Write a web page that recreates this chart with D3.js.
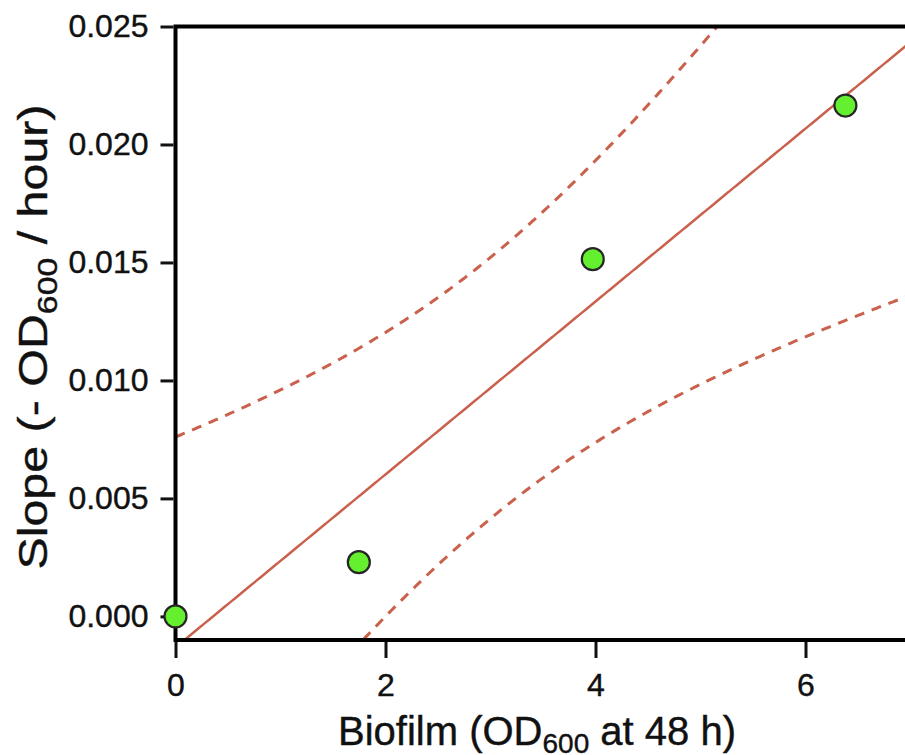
<!doctype html>
<meta charset="utf-8">
<title>Slope vs biofilm</title>
<script src="https://cdn.jsdelivr.net/npm/d3@7"></script>
<style>
body, html { margin: 0; background: #fff; }
svg text { font-family: "Liberation Sans", Arial, sans-serif; fill: #111; }
</style>
<div id="chart"></div>
<script>
// values
var biofilm = [0, 1.746, 3.974, 6.38];
var slopeVals = [0.0, 0.0023, 0.01514, 0.02165];
var xTicks = [0, 2, 4, 6];
var yTicks = [0.000, 0.005, 0.010, 0.015, 0.020, 0.025];
var tCrit = 4.303; // t(0.975, df=2)

var width = 905, height = 755;
var mLeft = 175.5, mTop = 26.5, mBottom = 640;

var x = d3.scaleLinear().domain([0, 7.5]).range([mLeft, mLeft + 7.5 * 105]);
var y = d3.scaleLinear().domain([-0.001, 0.025]).range([mBottom, mTop]);

var svg = d3.select('#chart').append('svg')
  .attr('width', width).attr('height', height);

// linear fit + 95% confidence band of the mean
var n = biofilm.length;
var mx = d3.mean(biofilm), my = d3.mean(slopeVals);
var sxx = d3.sum(biofilm, function(d) { return (d - mx) * (d - mx); });
var sxy = d3.sum(biofilm, function(d, i) { return (d - mx) * (slopeVals[i] - my); });
var b = sxy / sxx, a = my - b * mx;
var sse = d3.sum(biofilm, function(d, i) { var r = slopeVals[i] - (a + b * d); return r * r; });
var s = Math.sqrt(sse / (n - 2));
function half(v) { return tCrit * s * Math.sqrt(1 / n + (v - mx) * (v - mx) / sxx); }

var grid = d3.range(0, 7.5, 0.02);

svg.append('clipPath').attr('id', 'plot').append('rect')
  .attr('x', mLeft).attr('y', mTop).attr('width', width - mLeft + 10).attr('height', mBottom - mTop);

var plot = svg.append('g').attr('clip-path', 'url(#plot)');
var red = '#c9614c';

var line = d3.line().x(function(d) { return x(d[0]); }).y(function(d) { return y(d[1]); });

plot.append('path')
  .attr('d', line(grid.map(function(v) { return [v, a + b * v]; })))
  .attr('fill', 'none').attr('stroke', red).attr('stroke-width', 2.5);

[1, -1].forEach(function(sign) {
  plot.append('path')
    .attr('d', line(grid.map(function(v) { return [v, a + b * v + sign * half(v)]; })))
    .attr('fill', 'none').attr('stroke', red).attr('stroke-width', 3)
    .attr('stroke-dasharray', '10,8');
});

// frame
svg.append('path')
  .attr('d', 'M' + (width + 10) + ',' + mTop + 'H' + mLeft + 'V' + mBottom + 'H' + (width + 10))
  .attr('fill', 'none').attr('stroke', '#000').attr('stroke-width', 4);

// axes
var yAxis = svg.append('g')
  .attr('transform', 'translate(' + (mLeft - 2) + ',0)')
  .call(d3.axisLeft(y).tickValues(yTicks).tickFormat(d3.format('.3f')).tickSize(13).tickPadding(12));
var xAxis = svg.append('g')
  .attr('transform', 'translate(0,' + (mBottom + 2) + ')')
  .call(d3.axisBottom(x).tickValues(xTicks).tickFormat(d3.format('d')).tickSize(16).tickPadding(15));
[xAxis, yAxis].forEach(function(g) {
  g.select('.domain').remove();
  g.selectAll('.tick line').attr('stroke', '#111').attr('stroke-width', 3);
  g.selectAll('.tick text').style('font-size', '32px').attr('fill', '#111')
    .style('stroke', '#111').style('stroke-width', 0.4);
});

// points
svg.append('g').selectAll('circle')
  .data(biofilm)
  .join('circle')
  .attr('cx', function(d) { return x(d); })
  .attr('cy', function(d, i) { return y(slopeVals[i]); })
  .attr('r', 11)
  .attr('fill', '#64f02e')
  .attr('stroke', '#262626')
  .attr('stroke-width', 2.2);

// axis titles
var xt = svg.append('text')
  .attr('x', 537).attr('y', 745)
  .attr('text-anchor', 'middle')
  .style('font-size', '40px').style('stroke', '#111').style('stroke-width', 0.4);
xt.append('tspan').text('Biofilm (OD');
xt.append('tspan').text('600').attr('dy', 8).style('font-size', '28px');
xt.append('tspan').text(' at 48 h)').attr('dy', -8);

// the y title is drawn longer in the reference
var yt = svg.append('text')
  .attr('transform', 'translate(47,337) rotate(-90) scale(1.21,1)')
  .attr('text-anchor', 'middle')
  .style('font-size', '40px').style('stroke', '#111').style('stroke-width', 0.4);
yt.append('tspan').text('Slope (- OD');
yt.append('tspan').text('600').attr('dy', 10).style('font-size', '28px');
yt.append('tspan').text(' / hour)').attr('dy', -10);
</script>
